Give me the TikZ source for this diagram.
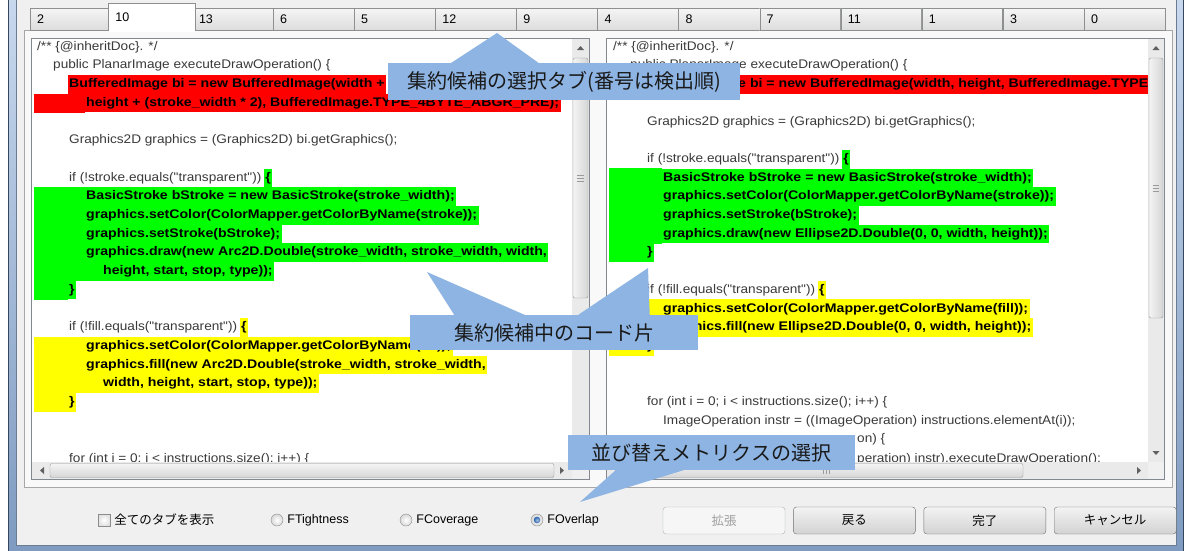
\documentclass[tikz,border=0pt]{standalone}
\usepackage{fontspec}
\usepackage{graphicx}
\setmainfont{Liberation Sans}
\newfontfamily\codefont[BoldFeatures={FakeStretch=1.13}]{Liberation Sans}
\newfontfamily\jpfont{Noto Sans CJK JP}
\usetikzlibrary{positioning}

\definecolor{winbg}{HTML}{F0F0F0}
\definecolor{panelbg}{HTML}{F9F9F9}
\definecolor{panelline}{HTML}{A7A7A7}
\definecolor{framedark}{HTML}{34475F}
\definecolor{framelight}{HTML}{C9D9EE}
\definecolor{framemid}{HTML}{7E9AC0}
\definecolor{frameinner}{HTML}{6A7B92}
\definecolor{tabline}{HTML}{8E8F8F}
\definecolor{tabtop}{HTML}{F5F5F5}
\definecolor{tabbottom}{HTML}{DCDCDC}
\definecolor{panebd}{HTML}{828790}
\definecolor{codetext}{HTML}{3A3A3A}
\definecolor{hlred}{HTML}{FF0000}
\definecolor{hlgreen}{HTML}{00FF00}
\definecolor{hlyellow}{HTML}{FFFF00}
\definecolor{calloutblue}{HTML}{8DB4E2}
\definecolor{notetext}{HTML}{1A1A1A}
\definecolor{sbtrack}{HTML}{EAEAEA}
\definecolor{thumbline}{HTML}{9A9A9A}
\definecolor{thumbL}{HTML}{F4F4F4}
\definecolor{thumbR}{HTML}{D6D6D6}
\definecolor{arrowgray}{HTML}{606060}
\definecolor{btnline}{HTML}{707070}
\definecolor{btntop}{HTML}{F3F3F3}
\definecolor{btnbottom}{HTML}{D2D2D2}
\definecolor{offline}{HTML}{ADB2B5}
\definecolor{offtext}{HTML}{A0A0A0}
\definecolor{radioline}{HTML}{8C8C8C}
\definecolor{radiodot}{HTML}{2A64B0}

\newcommand{\codesize}{\codefont\fontsize{12.5pt}{15pt}\selectfont}
\newcommand{\uisize}{\fontsize{12.5pt}{15pt}\selectfont}
\newcommand{\jpsize}{\jpfont\fontsize{12.5pt}{15pt}\selectfont}
\newcommand{\notesize}{\jpfont\fontsize{20pt}{24pt}\selectfont}
% plain code lines are set a little wider, as in the dialog
\newcommand{\wide}[1]{\scalebox{1.09}[1]{#1}}

\tikzset{
  tabbox/.style={draw=tabline, top color=tabtop, bottom color=tabbottom,
    anchor=north west, minimum height=22pt, text width=66.7pt,
    inner xsep=7pt, inner ysep=0pt, align=left, font=\uisize},
  seltab/.style={tabbox, draw=none, top color=white, bottom color=white,
    minimum height=28pt, text width=72.7pt},
  code/.style={anchor=west, inner xsep=0pt, inner ysep=0pt, text height=9.5pt,
    text depth=3pt, minimum height=18.7pt, font=\codesize, text=codetext},
  hl/.style={code, inner xsep=1.5pt, font=\codesize\bfseries, text=black},
  hlr/.style={hl, fill=hlred},
  hlg/.style={hl, fill=hlgreen},
  hly/.style={hl, fill=hlyellow},
  thumb/.style={draw=thumbline, left color=thumbL, right color=thumbR, rounded corners=2pt},
  hthumb/.style={draw=thumbline, top color=thumbL, bottom color=thumbR, rounded corners=2pt},
  grip/.style={draw=thumbline, line width=0.8pt},
  calloutbox/.style={fill=calloutblue, inner sep=0pt, font=\notesize, text=notetext},
  btn/.style={draw=btnline, rounded corners=3pt, top color=btntop, bottom color=btnbottom,
    minimum width=122pt, minimum height=27pt, inner sep=0pt, font=\jpsize},
  btnoff/.style={draw=offline, top color=winbg!60!white, bottom color=winbg!60!white, text=offtext},
  radiobtn/.style={circle, draw=radioline, inner sep=0pt, minimum size=12pt,
    inner color=white, outer color=black!15},
  checkbox/.style={rectangle, draw=radioline, inner sep=0pt, minimum size=12pt,
    inner color=white, outer color=black!12},
  optlabel/.style={anchor=west, inner sep=0pt, font=\uisize, text=black}
}

\begin{document}
\begin{tikzpicture}[x=1pt, y=-1pt]
  \useasboundingbox (0,0) rectangle (1189,550);
  \fill[white] (0,0) rectangle (1189,550);

  % window frame
  \draw[framedark, top color=framelight, bottom color=framemid] (8.5,-10) rectangle (1183,560);
  \draw[frameinner, fill=winbg] (16,-10) rectangle (1176,545);

  % tab panel
  \draw[panelline, fill=panelbg] (24,30.5) rectangle (1172,487);

  % candidate tabs
  \node[tabbox] (t2) at (30,8) {2};
  \node[tabbox, right=80.7pt of t2] (t13) {13};
  \node[tabbox, right=0pt of t13] (t6) {6};
  \node[tabbox, right=0pt of t6] (t5) {5};
  \node[tabbox, right=0pt of t5] (t12) {12};
  \node[tabbox, right=0pt of t12] (t9) {9};
  \node[tabbox, right=0pt of t9] (t4) {4};
  \node[tabbox, right=0pt of t4] (t8) {8};
  \node[tabbox, right=0pt of t8] (t7) {7};
  \node[tabbox, right=0pt of t7] (t11) {11};
  \node[tabbox, right=0pt of t11] (t1) {1};
  \node[tabbox, right=0pt of t1] (t3) {3};
  \node[tabbox, right=0pt of t3] (t0) {0};
  \node[seltab, right=-3pt of t2, yshift=2pt] (t10) {10};
  \draw[tabline] (t10.south west) |- (t10.north east) -- (t10.south east);

  % code panes
  \draw[panebd, fill=white] (31.5,38.5) rectangle (589.5,479.5);
  \draw[panebd, fill=white] (606.5,38.5) rectangle (1164.5,479.5);
  \coordinate (lpane) at (34,0);
  \coordinate (rpane) at (609,0);

  % left pane
  \begin{scope}
    \clip (32,39) rectangle (572,462);
    \node[code] (l0) at (37,47.0) {\wide{/** \{@inheritDoc\}. */}};
    \node[code] (l1) at (53,65.7) {\wide{public PlanarImage executeDrawOperation() \{}};
    \node[hlr] (l2) at (67.5,84.4) {BufferedImage bi = new BufferedImage(width +};
    \node[hlr] (l3) at (84.5,103.1) {height + (stroke\_width * 2), BufferedImage.TYPE\_4BYTE\_ABGR\_PRE);};
    \node[code] (l5) at (69,140.5) {\wide{Graphics2D graphics = (Graphics2D) bi.getGraphics();}};
    \node[code] (l7) at (69,177.9) {\wide{if (!stroke.equals("transparent"))}};
    \node[hlg, right=2pt of l7] (l7b) {\{};
    \node[hlg] (l8) at (84.5,196.6) {BasicStroke bStroke = new BasicStroke(stroke\_width);};
    \node[hlg] (l9) at (84.5,215.3) {graphics.setColor(ColorMapper.getColorByName(stroke));};
    \node[hlg] (l10) at (84.5,234.0) {graphics.setStroke(bStroke);};
    \node[hlg] (l11) at (84.5,252.7) {graphics.draw(new Arc2D.Double(stroke\_width, stroke\_width, width,};
    \node[hlg] (l12) at (101.5,271.4) {height, start, stop, type));};
    \node[hlg] (l13) at (67.5,290.1) {\}};
    \node[code] (l15) at (69,327.5) {\wide{if (!fill.equals("transparent"))}};
    \node[hly, right=2pt of l15] (l15b) {\{};
    \node[hly] (l16) at (84.5,346.2) {graphics.setColor(ColorMapper.getColorByName(fill));};
    \node[hly] (l17) at (84.5,364.9) {graphics.fill(new Arc2D.Double(stroke\_width, stroke\_width,};
    \node[hly] (l18) at (101.5,383.6) {width, height, start, stop, type));};
    \node[hly] (l19) at (67.5,402.3) {\}};
    \node[code] (l22) at (69,459.5) {\wide{for (int i = 0; i < instructions.size(); i++) \{}};
    \fill[hlred] (l3.north -| lpane) rectangle ([xshift=0.5pt]l3.south west);
    \fill[hlgreen] (l8.north -| lpane) rectangle ([xshift=0.5pt]l11.south west);
    \fill[hlgreen] (l12.north -| lpane) rectangle ([xshift=0.5pt]l12.south west);
    \fill[hlgreen] (l13.north -| lpane) rectangle ([xshift=0.5pt]l13.south west);
    \fill[hlyellow] (l16.north -| lpane) rectangle ([xshift=0.5pt]l17.south west);
    \fill[hlyellow] (l18.north -| lpane) rectangle ([xshift=0.5pt]l18.south west);
    \fill[hlyellow] (l19.north -| lpane) rectangle ([xshift=0.5pt]l19.south west);
  \end{scope}

  % right pane
  \begin{scope}
    \clip (607,39) rectangle (1148,462);
    \node[code] (r0) at (613,47.0) {\wide{/** \{@inheritDoc\}. */}};
    \node[code] (r1) at (630,65.7) {\wide{public PlanarImage executeDrawOperation() \{}};
    \node[hlr] (r2) at (645.5,84.4) {BufferedImage bi = new BufferedImage(width, height, BufferedImage.TYPE\_4BYTE\_ABGR\_PRE);};
    \node[code] (r4) at (647,121.8) {\wide{Graphics2D graphics = (Graphics2D) bi.getGraphics();}};
    \node[code] (r6) at (647,159.2) {\wide{if (!stroke.equals("transparent"))}};
    \node[hlg, right=2pt of r6] (r6b) {\{};
    \node[hlg] (r7) at (661.5,177.9) {BasicStroke bStroke = new BasicStroke(stroke\_width);};
    \node[hlg] (r8) at (661.5,196.6) {graphics.setColor(ColorMapper.getColorByName(stroke));};
    \node[hlg] (r9) at (661.5,215.3) {graphics.setStroke(bStroke);};
    \node[hlg] (r10) at (661.5,234.0) {graphics.draw(new Ellipse2D.Double(0, 0, width, height));};
    \node[hlg] (r11) at (645.5,252.7) {\}};
    \node[code] (r13) at (647,290.1) {\wide{if (!fill.equals("transparent"))}};
    \node[hly, right=2pt of r13] (r13b) {\{};
    \node[hly] (r14) at (661.5,308.8) {graphics.setColor(ColorMapper.getColorByName(fill));};
    \node[hly] (r15) at (661.5,327.5) {graphics.fill(new Ellipse2D.Double(0, 0, width, height));};
    \node[hly] (r16) at (645.5,346.2) {\}};
    \node[code] (r19) at (647,402.3) {\wide{for (int i = 0; i < instructions.size(); i++) \{}};
    \node[code] (r20) at (663,421.0) {\wide{ImageOperation instr = ((ImageOperation) instructions.elementAt(i));}};
    \node[code] (r21) at (857,439.7) {\wide{on) \{}};
    \node[code] (r22) at (857,459.5) {\wide{peration) instr).executeDrawOperation();}};
    \fill[hlgreen] (r7.north -| rpane) rectangle ([xshift=0.5pt]r10.south west);
    \fill[hlgreen] (r11.north -| rpane) rectangle ([xshift=0.5pt]r11.south west);
    \fill[hlyellow] (r14.north -| rpane) rectangle ([xshift=0.5pt]r15.south west);
    \fill[hlyellow] (r16.north -| rpane) rectangle ([xshift=0.5pt]r16.south west);
  \end{scope}

  % scroll bars
  \fill[sbtrack] (572,39) rectangle (589,462);
  \draw[thumb] (573,58) rectangle (588,298);
  \draw[grip] (577,175) -- (584,175) (577,178) -- (584,178) (577,181) -- (584,181);
  \fill[arrowgray] (577,50) -- (580.5,46) -- (584,50) -- cycle;
  \fill[arrowgray] (577,451) -- (580.5,455) -- (584,451) -- cycle;
  \fill[sbtrack] (32,462) rectangle (572,479);
  \draw[hthumb] (50,463.5) rectangle (554,477.5);
  \fill[arrowgray] (44,467) -- (40,470.5) -- (44,474) -- cycle;
  \fill[arrowgray] (560,467) -- (564,470.5) -- (560,474) -- cycle;
  \fill[winbg] (572,462) rectangle (589,479);

  \fill[sbtrack] (1148,39) rectangle (1164,462);
  \draw[thumb] (1149,58) rectangle (1163,318);
  \draw[grip] (1153,185) -- (1159,185) (1153,188) -- (1159,188) (1153,191) -- (1159,191);
  \fill[arrowgray] (1152.5,50) -- (1156,46) -- (1159.5,50) -- cycle;
  \fill[arrowgray] (1152.5,451) -- (1156,455) -- (1159.5,451) -- cycle;
  \fill[sbtrack] (607,462) rectangle (1148,479);
  \draw[hthumb] (626,463.5) rectangle (1023,477.5);
  \draw[grip] (823,467) -- (823,474) (826,467) -- (826,474) (829,467) -- (829,474);
  \fill[arrowgray] (619,467) -- (615,470.5) -- (619,474) -- cycle;
  \fill[arrowgray] (1137,467) -- (1141,470.5) -- (1137,474) -- cycle;
  \fill[winbg] (1148,462) rectangle (1164,479);

  % options and buttons
  \node[checkbox] (cbAll) at (104,520) {};
  \node[optlabel, font=\jpsize, right=4pt of cbAll] (lAll) {全てのタブを表示};
  \node[radiobtn] (rTight) at (277,520) {};
  \node[optlabel, right=4pt of rTight] (lTight) {FTightness};
  \node[radiobtn] (rCover) at (406,520) {};
  \node[optlabel, right=4pt of rCover] (lCover) {FCoverage};
  \node[radiobtn] (rOver) at (537,520) {};
  \node[optlabel, right=4pt of rOver] (lOver) {FOverlap};
  \shade[inner color=radiodot!40, outer color=radiodot] (rOver.center) circle (3.3);

  \node[btn, btnoff] (bExpand) at (724,520.5) {拡張};
  \node[btn, right=8pt of bExpand] (bBack) {戻る};
  \node[btn, right=8pt of bBack] (bDone) {完了};
  \node[btn, right=8pt of bDone] (bCancel) {キャンセル};

  % callouts
  \node[calloutbox, minimum width=352pt, minimum height=37pt] (cTabs) at (564,81.5) {集約候補の選択タブ(番号は検出順)};
  \coordinate (tabTip) at (497,33);
  \fill[calloutblue] ([xshift=62pt, yshift=-1pt]cTabs.north west) -- (tabTip) -- ([xshift=152pt, yshift=-1pt]cTabs.north west) -- cycle;

  \node[calloutbox, minimum width=288pt, minimum height=35pt] (cSnippet) at (554,332.5) {集約候補中のコード片};
  \coordinate (leftTip) at (427,272);
  \coordinate (rightTip) at (648,268);
  \fill[calloutblue] ([xshift=45pt, yshift=-1pt]cSnippet.north west) -- (leftTip) -- ([xshift=117pt, yshift=-1pt]cSnippet.north west) -- cycle;
  \fill[calloutblue] ([xshift=167pt, yshift=-1pt]cSnippet.north west) -- (rightTip) -- ([xshift=240pt, yshift=-1pt]cSnippet.north west) -- cycle;

  \node[calloutbox, minimum width=287pt, minimum height=35pt] (cMetric) at (711.5,452.5) {並び替えメトリクスの選択};
  \coordinate (metricTip) at (580,502);
  \fill[calloutblue] ([xshift=49pt, yshift=1pt]cMetric.south west) -- (metricTip) -- ([xshift=119pt, yshift=1pt]cMetric.south west) -- cycle;
\end{tikzpicture}
\end{document}
